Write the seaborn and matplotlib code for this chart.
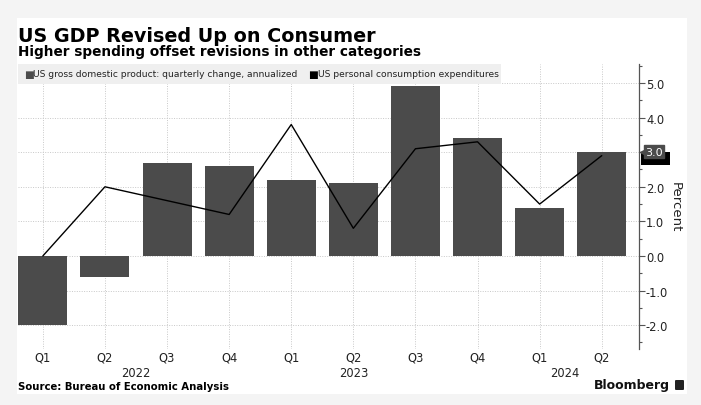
import numpy as np
import pandas as pd
import matplotlib
matplotlib.use("Agg")
import matplotlib.pyplot as plt
import matplotlib.patches as mpatches
import matplotlib.transforms as mtransforms
from matplotlib.ticker import MultipleLocator, FixedLocator
import seaborn as sns

# ---- data ----
quarters = ["Q1", "Q2", "Q3", "Q4", "Q1", "Q2", "Q3", "Q4", "Q1", "Q2"]
periods = ["2022Q1", "2022Q2", "2022Q3", "2022Q4", "2023Q1", "2023Q2",
           "2023Q3", "2023Q4", "2024Q1", "2024Q2"]
years = ["2022", "2023", "2024"]
year_pos = [1.5, 5.0, 8.4]
gdp = [-2.0, -0.6, 2.7, 2.6, 2.2, 2.1, 4.9, 3.4, 1.4, 3.0]
pce = [0.0, 2.0, 1.6, 1.2, 3.8, 0.8, 3.1, 3.3, 1.5, 2.9]
yticks = [-2.0, -1.0, 0.0, 1.0, 2.0, 3.0, 4.0, 5.0]

title = "US GDP Revised Up on Consumer"
subtitle = "Higher spending offset revisions in other categories"
legend_gdp = "US gross domestic product: quarterly change, annualized"
legend_pce = "US personal consumption expenditures"
source = "Source: Bureau of Economic Analysis"

df = pd.DataFrame({"period": periods, "gdp": gdp, "pce": pce})
df["pos"] = np.arange(len(df))

sns.set_theme(style="white")
plt.rcParams["font.family"] = ["DejaVu Sans"]

W, H = 701, 406
fig = plt.figure(figsize=(W / 100, H / 100), dpi=100, facecolor="#f4f4f4")

def fx(px):
    return px / W

def fy(py):
    return 1 - py / H

# white card
fig.patches.append(mpatches.Rectangle((fx(17), fy(395)), fx(687) - fx(17), fy(19) - fy(395),
                                      transform=fig.transFigure, facecolor="white",
                                      edgecolor="none", zorder=-10))

ax = fig.add_axes([fx(18), fy(350), fx(639) - fx(18), fy(65) - fy(350)])
ax.set_facecolor("none")

BAR = "#4b4b4b"
sns.barplot(data=df, x="period", y="gdp", order=periods, color=BAR, width=0.79,
            saturation=1, ax=ax, zorder=3, linewidth=0)
sns.lineplot(data=df, x="pos", y="pce", color="black", linewidth=1.0, ax=ax,
             zorder=4, legend=False)

ax.set_xlim(-0.4, 9.6)
ax.set_ylim(-2.69, 5.55)

# grid
for v in yticks:
    ax.axhline(v, color="#c8c8c8", linestyle=(0, (1, 1.5)), linewidth=0.7, zorder=1)
for p in df["pos"]:
    ax.axvline(p, color="#c8c8c8", linestyle=(0, (1, 1.5)), linewidth=0.7, zorder=1)

# x axis
ax.set_xticks(df["pos"])
ax.set_xticklabels(quarters, fontsize=8.3, color="#222222")
ax.tick_params(axis="x", length=0, pad=1)
ax.set_xlabel("")
for yl, yp in zip(years, year_pos):
    ax.text(yp, -0.06, yl, transform=ax.get_xaxis_transform(), ha="center", va="top",
            fontsize=8.3, color="#222222")

# y axis on right (the 3.0 label sits under the value tag)
last_val = gdp[-1]
ax.yaxis.tick_right()
ax.yaxis.set_label_position("right")
ax.yaxis.set_major_locator(FixedLocator(yticks))
ax.yaxis.set_minor_locator(MultipleLocator(0.5))
ax.set_yticklabels(["" if abs(v - last_val) < 1e-9 else f"{v:.1f}" for v in yticks],
                   fontsize=8.3, color="#222222")
ax.tick_params(axis="y", which="major", length=4, width=0.8, color="#555555", pad=1,
               right=True, left=False)
ax.tick_params(axis="y", which="minor", length=2.5, width=0.8, color="#555555",
               right=True, left=False)
ax.set_ylabel("Percent", rotation=270, labelpad=10, fontsize=9.5, color="#222222")
for s in ["left", "top", "bottom"]:
    ax.spines[s].set_visible(False)
ax.spines["right"].set_color("#555555")
ax.spines["right"].set_linewidth(0.9)

# value tags: black PCE tag mostly hidden behind grey GDP tag
trans = mtransforms.blended_transform_factory(ax.transAxes, ax.transData)
ax.add_patch(mpatches.Rectangle((1.004, pce[-1] - 0.26), 0.046, 0.36, transform=trans,
                                facecolor="black", edgecolor="none", clip_on=False, zorder=6))
ax.annotate(f"{last_val:.1f}", xy=(1.0, last_val), xycoords=trans, xytext=(4.5, 0.5),
            textcoords="offset points", ha="left", va="center", fontsize=8, color="white",
            bbox=dict(boxstyle="square,pad=0.12", fc=BAR, ec=BAR),
            annotation_clip=False, zorder=7)
ax.plot([1.007], [last_val], marker="<", markersize=5, color=BAR, transform=trans,
        clip_on=False, zorder=7, linestyle="none")

# legend band
fig.patches.append(mpatches.Rectangle((fx(18), fy(85)), fx(501) - fx(18), fy(65) - fy(85),
                                      transform=fig.transFigure, facecolor="#efefef",
                                      edgecolor="none", zorder=5))
fig.text(fx(24), fy(75), "\u25a0", color=BAR, fontsize=7.5, va="center", ha="left", zorder=6)
fig.text(fx(33), fy(75), legend_gdp, color="#222222", fontsize=6.6, va="center", ha="left",
         zorder=6)
fig.text(fx(308), fy(75), "\u25a0", color="black", fontsize=7.5, va="center", ha="left", zorder=6)
fig.text(fx(318), fy(75), legend_pce, color="#222222", fontsize=6.6, va="center", ha="left",
         zorder=6)

# titles
fig.text(fx(18), fy(37), title, fontsize=13.8, fontweight="heavy", color="black",
         va="center", ha="left")
fig.text(fx(18), fy(52), subtitle, fontsize=9.8, fontweight="bold", color="black",
         va="center", ha="left")

# footer
fig.text(fx(18), fy(387), source, fontsize=7.3, fontweight="bold", color="black",
         va="center", ha="left")
fig.text(fx(670), fy(386), "Bloomberg", fontsize=9, fontweight="bold", color="#111111",
         va="center", ha="right")
fig.patches.append(mpatches.FancyBboxPatch((fx(675), fy(391)), fx(9), fy(0) - fy(10),
                                           boxstyle="round,pad=0,rounding_size=0.002",
                                           transform=fig.transFigure, facecolor="#222222",
                                           edgecolor="none"))

fig.savefig("out.png", dpi=100, facecolor=fig.get_facecolor())
